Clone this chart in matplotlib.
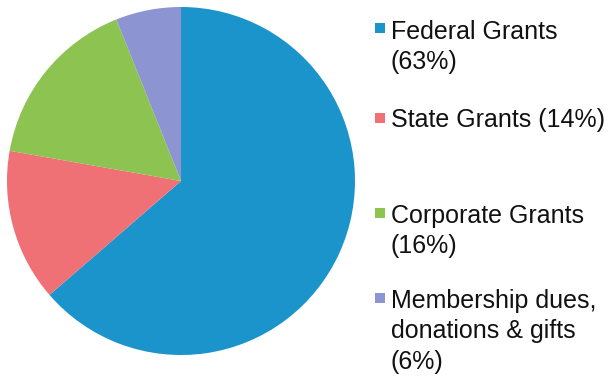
import matplotlib
matplotlib.use("Agg")
import matplotlib.pyplot as plt
from matplotlib.patches import Rectangle

categories = ["Federal Grants", "State Grants", "Corporate Grants", "Membership dues,\ndonations & gifts"]
values = [63, 14, 16, 6]
legend_labels = ["Federal Grants\n(63%)", "State Grants (14%)", "Corporate Grants\n(16%)",
                 "Membership dues,\ndonations & gifts\n(6%)"]
colors = ["#1b93cb", "#ef7175", "#8dc350", "#8c95d2"]

plt.rcParams['font.family'] = ['Liberation Sans', 'DejaVu Sans']

W, H = 609, 381
fig = plt.figure(figsize=(W / 100, H / 100), dpi=100)
cx, cy, r = 181, 181, 174
ax = fig.add_axes([(cx - r) / W, (H - cy - r) / H, 2 * r / W, 2 * r / H])
ax.pie(values, colors=colors, startangle=90, counterclock=False,
       wedgeprops=dict(linewidth=0))
ax.set_xlim(-1, 1)
ax.set_ylim(-1, 1)
ax.set_aspect('equal')
ax.axis('off')

# legend drawn manually
text_top = [20, 108, 204, 289]
marker_y = [23, 113, 208, 293]
for lab, col, ty, my in zip(legend_labels, colors, text_top, marker_y):
    fig.patches.append(Rectangle((375 / W, 1 - (my + 10) / H), 10 / W, 10 / H,
                                 transform=fig.transFigure, facecolor=col,
                                 edgecolor='none'))
    fig.text(391 / W, 1 - ty / H, lab, fontsize=18, va='top', ha='left',
             color='#111111', linespacing=1.33)

fig.savefig("out.png", dpi=100)
